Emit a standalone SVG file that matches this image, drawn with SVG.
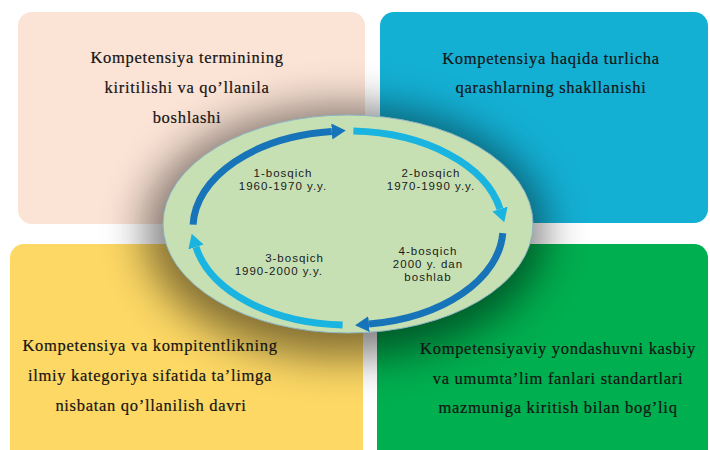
<svg xmlns="http://www.w3.org/2000/svg" width="710" height="450" viewBox="0 0 710 450">
<defs>
<style>
.bt{font-family:"Liberation Serif","Times New Roman",serif;font-size:16.5px;letter-spacing:0.7px;fill:#141414;stroke:#141414;stroke-width:0.2px;text-anchor:middle}
.ct{font-family:"Liberation Sans",Arial,sans-serif;font-size:11.5px;letter-spacing:1px;fill:#1a1a1a}
.arc{fill:none;stroke-width:7}
.dk{stroke:#1874b8}
.lt{stroke:#19b4e0}
</style>
<filter id="blur" x="-50%" y="-50%" width="200%" height="200%"><feGaussianBlur stdDeviation="22"/></filter>
<marker id="mdk" viewBox="0 0 14 16" refX="0" refY="8" markerWidth="14" markerHeight="16" markerUnits="userSpaceOnUse" orient="auto"><path d="M0,0 L14,8 L0,16 Z" fill="#1874b8"/></marker>
<marker id="mlt" viewBox="0 0 14 16" refX="0" refY="8" markerWidth="14" markerHeight="16" markerUnits="userSpaceOnUse" orient="auto"><path d="M0,0 L14,8 L0,16 Z" fill="#19b4e0"/></marker>
</defs>
<rect width="710" height="450" fill="#ffffff"/>
<g id="box1"><rect x="18" y="12" width="347" height="212" rx="14" fill="#fbe3d5"/></g>
<g id="box2"><rect x="380" y="12" width="328" height="211" rx="14" fill="#14b0d4"/></g>
<g id="box3"><rect x="10" y="244" width="353" height="220" rx="14" fill="#fdd865"/></g>
<g id="box4"><rect x="377" y="244" width="331" height="220" rx="14" fill="#00af4f"/></g>
<ellipse cx="345" cy="232" rx="200" ry="125" fill="#000" opacity="0.5" filter="url(#blur)"/>
<g id="box1-text">
<text class="bt" x="187" y="63">Kompetensiya terminining</text>
<text class="bt" x="187" y="93">kiritilishi va qo’llanila</text>
<text class="bt" x="187" y="123">boshlashi</text>
</g>
<g id="box2-text">
<text class="bt" x="551" y="64">Kompetensiya haqida turlicha</text>
<text class="bt" x="551" y="93">qarashlarning shakllanishi</text>
</g>
<g id="box3-text">
<text class="bt" x="150" y="351">Kompetensiya va kompitentlikning</text>
<text class="bt" x="150" y="381">ilmiy kategoriya sifatida ta’limga</text>
<text class="bt" x="151" y="411">nisbatan qo’llanilish davri</text>
</g>
<g id="box4-text">
<text class="bt" x="558" y="354">Kompetensiyaviy yondashuvni kasbiy</text>
<text class="bt" x="558" y="384">va umumta’lim fanlari standartlari</text>
<text class="bt" x="558" y="413">mazmuniga kiritish bilan bog’liq</text>
</g>
<g id="cycle">
<ellipse cx="348" cy="224" rx="185" ry="109" fill="#c6e0b4" stroke="#8db4c4" stroke-width="1"/>
</g>
<g id="connectors">
<path class="arc dk" d="M193.1,224.6 A155,97 0 0 1 331.8,131.5" marker-end="url(#mdk)"/>
<path class="arc lt" d="M353.4,131.1 A155,97 0 0 1 500,209" marker-end="url(#mlt)"/>
<path class="arc dk" d="M502.8,233.1 A155,97 0 0 1 369,324.1" marker-end="url(#mdk)"/>
<path class="arc lt" d="M342.6,324.9 A155,97 0 0 1 196,247" marker-end="url(#mlt)"/>
</g>
<g id="stage1"><text class="ct" text-anchor="middle" x="283" y="177">1-bosqich</text><text class="ct" text-anchor="middle" x="283" y="190">1960-1970 y.y.</text></g>
<g id="stage2"><text class="ct" text-anchor="middle" x="431" y="177">2-bosqich</text><text class="ct" text-anchor="middle" x="431" y="190">1970-1990 y.y.</text></g>
<g id="stage3"><text class="ct" text-anchor="end" x="324" y="262">3-bosqich</text><text class="ct" text-anchor="end" x="323" y="275">1990-2000 y.y.</text></g>
<g id="stage4"><text class="ct" text-anchor="middle" x="428" y="255">4-bosqich</text><text class="ct" text-anchor="middle" x="428" y="268">2000 y. dan</text><text class="ct" text-anchor="middle" x="428" y="281">boshlab</text></g>
</svg>
